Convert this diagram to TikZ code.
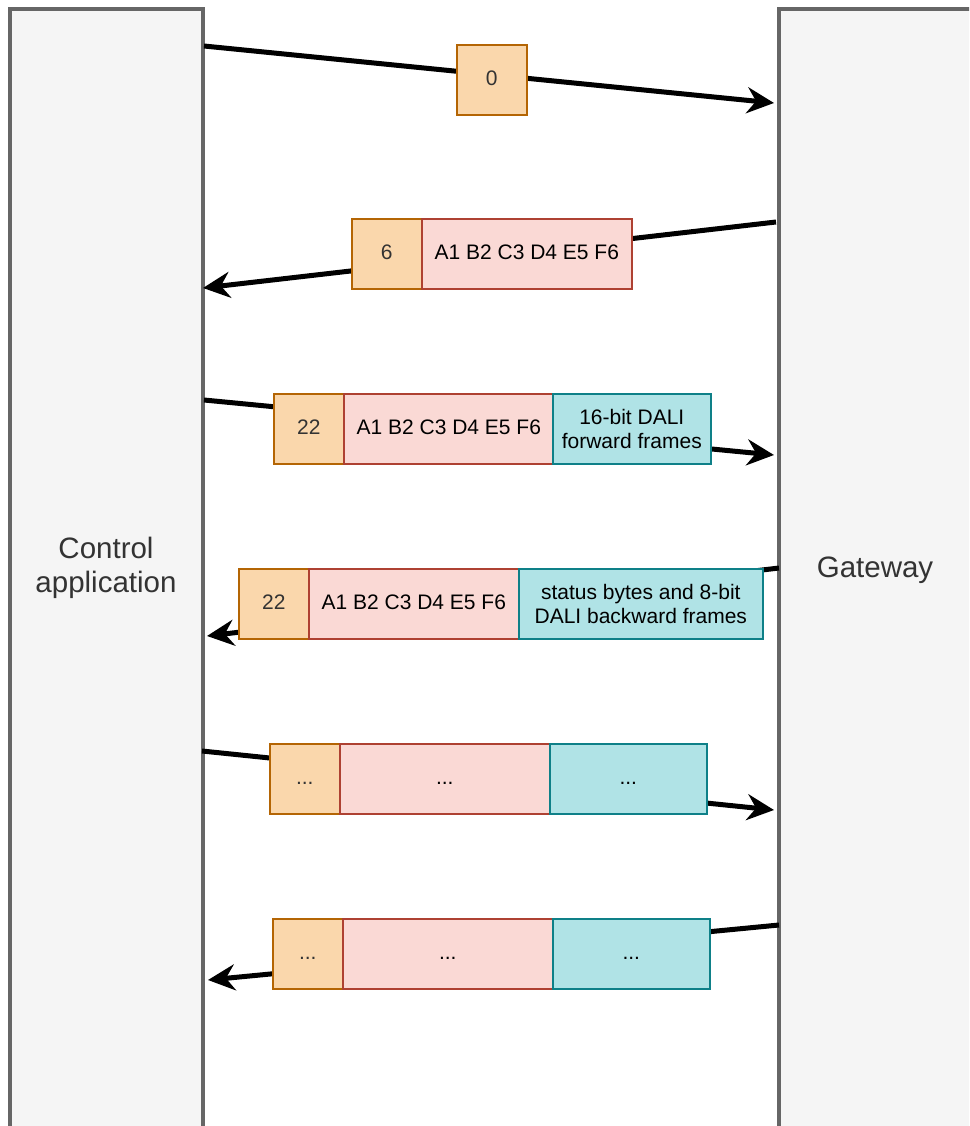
\documentclass[tikz,border=0pt]{standalone}
\usepackage{fontspec}
\setmainfont{Liberation Sans}
\usetikzlibrary{arrows.meta}
\definecolor{sidefill}{HTML}{F5F5F5}
\definecolor{sideline}{HTML}{666666}
\definecolor{sidetext}{HTML}{333333}
\definecolor{lenfill}{HTML}{FAD7AC}
\definecolor{lenline}{HTML}{B46504}
\definecolor{addrfill}{HTML}{FAD9D5}
\definecolor{addrline}{HTML}{AE4132}
\definecolor{datafill}{HTML}{B0E3E6}
\definecolor{dataline}{HTML}{0E8088}
\tikzset{
  x=1pt, y=-1pt,
  side/.style={draw=sideline, fill=sidefill, line width=3.5pt},
  sidelabel/.style={text=sidetext, font=\fontsize{29.5}{34}\selectfont, align=center},
  field/.style={anchor=north west, minimum height=70pt, inner sep=0pt, line width=1.6pt,
    font=\fontsize{21}{24}\selectfont},
  oneline/.style={text height=15pt, text depth=3pt},
  twoline/.style={align=center},
  lenbox/.style={field, oneline, draw=lenline, fill=lenfill, text=sidetext, minimum width=70pt},
  addrbox/.style={field, oneline, draw=addrline, fill=addrfill, minimum width=210pt},
  databox/.style={field, draw=dataline, fill=datafill},
  msg/.style={line width=5pt, -{Stealth[length=27pt, width=26pt, inset=9pt]}},
}
\begin{document}
\begin{tikzpicture}
\useasboundingbox (0,0) rectangle (969,1126);
\clip (0,0) rectangle (969,1126);
% the two parties
\draw[side] (10,9) rectangle (203,1128);
\draw[side] (779,9) rectangle (1000,1128);
\node[sidelabel] (app) at (106,568) {Control\\application};
\node[sidelabel] (gw) at (875,570) {Gateway};
% end points of the messages
\coordinate (s1) at (204,46);  \coordinate (e1) at (774,103);
\coordinate (s2) at (776,222); \coordinate (e2) at (203,288);
\coordinate (s3) at (204,400); \coordinate (e3) at (774,455);
\coordinate (s4) at (779,568); \coordinate (e4) at (207,636);
\coordinate (s5) at (202,751); \coordinate (e5) at (774,810);
\coordinate (s6) at (779,925); \coordinate (e6) at (208,980);
\foreach \i in {1,...,6} \draw[msg] (s\i) -- (e\i);
% message 1
\node[lenbox] (l1) at (456,44) {0};
% message 2
\node[lenbox] (l2) at (351,218) {6};
\node[addrbox] (a2) at (421,218) {A1 B2 C3 D4 E5 F6};
% message 3
\node[lenbox] (l3) at (273,393) {22};
\node[addrbox] (a3) at (343,393) {A1 B2 C3 D4 E5 F6};
\node[databox, twoline, minimum width=158pt] (d3) at (552,393) {16-bit DALI\\forward frames};
% message 4
\node[lenbox] (l4) at (238,568) {22};
\node[addrbox] (a4) at (308,568) {A1 B2 C3 D4 E5 F6};
\node[databox, twoline, minimum width=244pt] (d4) at (518,568) {status bytes and 8-bit\\DALI backward frames};
% message 5
\node[lenbox] (l5) at (269,743) {...};
\node[addrbox] (a5) at (339,743) {...};
\node[databox, oneline, minimum width=157pt] (d5) at (549,743) {...};
% message 6
\node[lenbox] (l6) at (272,918) {...};
\node[addrbox] (a6) at (342,918) {...};
\node[databox, oneline, minimum width=157pt] (d6) at (552,918) {...};
\end{tikzpicture}
\end{document}
